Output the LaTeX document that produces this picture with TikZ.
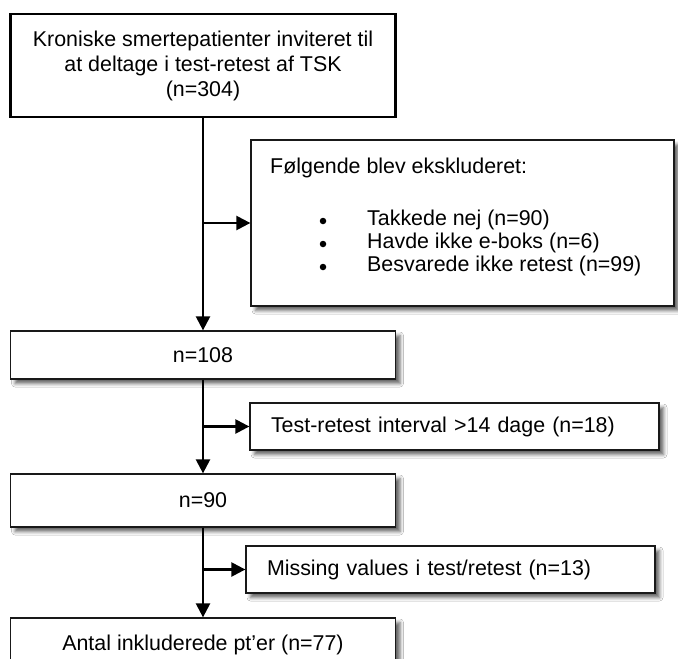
\documentclass[tikz,border=0pt]{standalone}
\usepackage{fontspec}
\setmainfont{Liberation Sans}
\usetikzlibrary{arrows.meta,shadows.blur}
\begin{document}
\begin{tikzpicture}[x=1pt,y=-1pt,
  font=\fontsize{21.4}{25}\selectfont,
  topbox/.style={draw=black, line width=2.5pt, fill=white, rectangle, inner sep=0pt, align=center},
  box/.style={draw=black!90, line width=1.3pt, fill=white, rectangle, inner sep=0pt,
    blur shadow={shadow xshift=4.5pt, shadow yshift=-4.5pt, shadow blur radius=3.5pt, shadow opacity=60}},
  lbox/.style={box, text width=#1, inner xsep=21pt, align=left},
  txt/.style={inner sep=0pt, anchor=west},
  dot/.style={circle, fill=black, inner sep=0pt, minimum size=6.5pt},
  conn/.style={line width=2.4pt, -{Triangle[length=14pt,width=14pt]}}
  ]
\clip (0,0) rectangle (678,659);
\fill[white] (0,0) rectangle (678,659);

\node[topbox, minimum width=385pt, minimum height=103pt] (top) at (203,65.5)
  {Kroniske smertepatienter inviteret til\\at deltage i test-retest af TSK\\(n=304)};

\node[box, minimum width=423pt, minimum height=166pt] (excl) at (462.5,223) {};
\node[txt] (exhead) at (270,168) {Følgende blev ekskluderet:};
\node[dot] (b1) at (323,221) {};
\node[txt] (t1) at (367,220) {Takkede nej (n=90)};
\node[dot] (b2) at (323,244) {};
\node[txt] (t2) at (367,243) {Havde ikke e-boks (n=6)};
\node[dot] (b3) at (323,267) {};
\node[txt] (t3) at (367,266) {Besvarede ikke retest (n=99)};

\node[box, minimum width=385pt, minimum height=48pt] (n108) at (203,355) {n=108};
\node[lbox=367pt, minimum height=47pt] (tr) at (454.5,426.5) {Test-retest interval >14 dage (n=18)};
\node[box, minimum width=385pt, minimum height=53pt] (n90) at (203,500.5) {n=90};
\node[lbox=367pt, minimum height=47pt] (miss) at (450.5,569.5) {Missing values i test/retest (n=13)};
\node[box, minimum width=385pt, minimum height=54pt] (final) at (203,645) {Antal inkluderede pt’er (n=77)};

\draw[conn] (top) -- (n108);
\draw[conn] (top.south |- excl.west) -- (excl.west);
\draw[conn] (n108) -- (n90);
\draw[conn] (n108.south |- tr.west) -- (tr.west);
\draw[conn] (n90) -- (final);
\draw[conn] (n90.south |- miss.west) -- (miss.west);
\end{tikzpicture}
\end{document}
